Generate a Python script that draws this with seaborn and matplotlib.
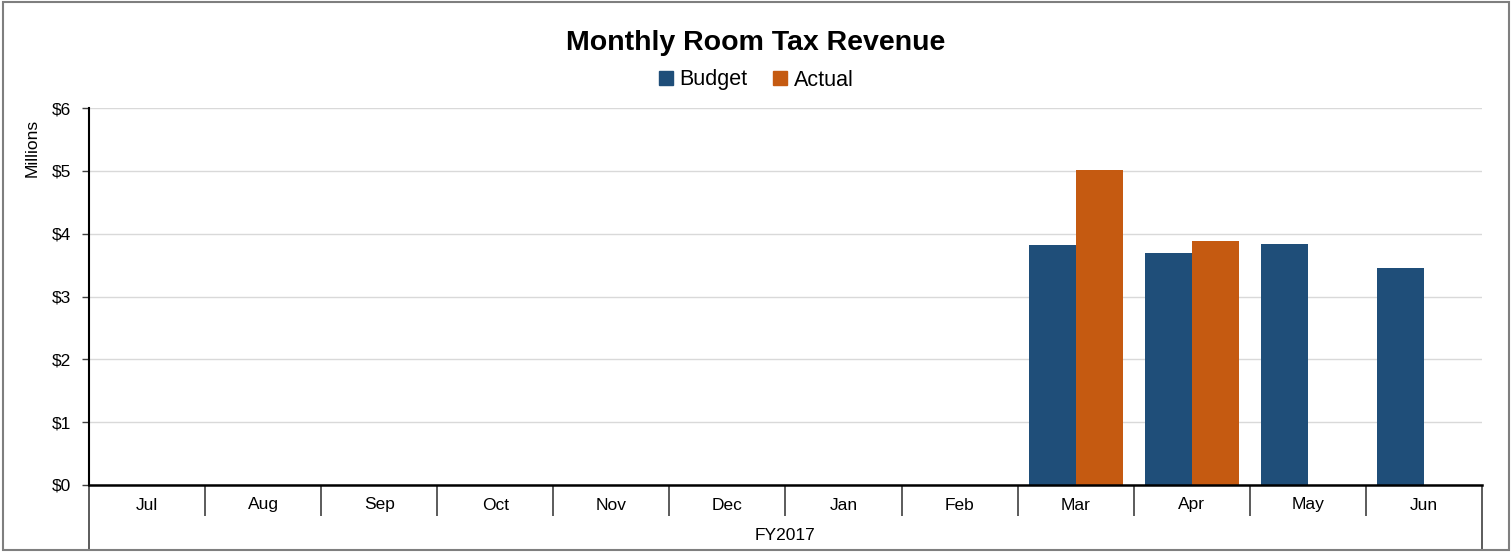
import matplotlib
matplotlib.use("Agg")
import matplotlib.pyplot as plt
import seaborn as sns
import pandas as pd
from matplotlib.patches import Rectangle
from matplotlib.ticker import FixedLocator, FuncFormatter

# Data (millions of dollars)
months = ['Jul', 'Aug', 'Sep', 'Oct', 'Nov', 'Dec', 'Jan', 'Feb', 'Mar', 'Apr', 'May', 'Jun']
budget = [None, None, None, None, None, None, None, None, 3.82, 3.69, 3.84, 3.45]
actual = [None, None, None, None, None, None, None, None, 5.02, 3.89, None, None]
series = ['Budget', 'Actual']
colors = ['#1F4E79', '#C55A11']
fiscal_year = 'FY2017'

df = pd.DataFrame({
    'month': months * 2,
    'series': ['Budget'] * 12 + ['Actual'] * 12,
    'value': budget + actual,
})
df['value'] = df['value'].astype(float)

sns.set_style('white')
plt.rcParams['font.family'] = ['Liberation Sans Narrow', 'Liberation Sans', 'DejaVu Sans']
plt.rcParams['text.color'] = 'black'
plt.rcParams['xtick.labelcolor'] = 'black'
plt.rcParams['ytick.labelcolor'] = 'black'

fig = plt.figure(figsize=(15.12, 5.52), dpi=100)
ax = fig.add_axes([89 / 1512, 67 / 552, (1482 - 89) / 1512, (485 - 108) / 552])

sns.barplot(data=df, x='month', y='value', hue='series', order=months,
            hue_order=series, palette=colors, width=0.81, linewidth=0,
            saturation=1, ax=ax, legend=False)

ax.set_xlim(-0.5, 11.5)
ax.set_ylim(0, 6)
ax.set_yticks(range(0, 7))
ax.yaxis.set_major_formatter(FuncFormatter(lambda v, p: f'${v:.0f}'))
ax.grid(axis='y', color='#d9d9d9', linewidth=1)
ax.set_axisbelow(True)
ax.set_xlabel('')
ax.set_ylabel('')

for s in ['top', 'right']:
    ax.spines[s].set_visible(False)
ax.spines['left'].set_color('black')
ax.spines['left'].set_linewidth(1.5)
ax.spines['bottom'].set_color('black')
ax.spines['bottom'].set_linewidth(1.8)

ax.tick_params(axis='y', which='major', length=5, width=1, color='#404040',
               labelsize=12.5, pad=8, left=True, labelcolor='black')

# month labels at centers, separators at boundaries
ax.xaxis.set_major_locator(FixedLocator([i - 0.5 for i in range(13)]))
ax.xaxis.set_minor_locator(FixedLocator(list(range(12))))
ax.set_xticklabels([''] * 13)
ax.set_xticklabels(months, minor=True)
ax.tick_params(axis='x', which='major', length=22, width=1.2, color='#404040', bottom=True)
ax.tick_params(axis='x', which='minor', length=0, labelsize=12.5, pad=9, labelcolor='black')
ticks = ax.xaxis.get_major_ticks()
for t in (ticks[0], ticks[-1]):
    t.tick1line.set_markersize(46)
    t.tick1line.set_color('black')

fig.text((89 + 1482) / 2 / 1512, 1 - 536 / 552, fiscal_year, ha='center', va='center', fontsize=12.5)
fig.text(32 / 1512, 1 - 148 / 552, 'Millions', rotation=90, ha='center', va='center', fontsize=12.5)
fig.text(0.5, 1 - 43 / 552, 'Monthly Room Tax Revenue', ha='center', va='center',
         fontsize=20.5, fontweight='bold')

handles = [Rectangle((0, 0), 1, 1, color=c) for c in colors]
fig.legend(handles, series, loc='center', bbox_to_anchor=(0.5, 1 - 80 / 552), ncol=2,
           frameon=False, fontsize=15.5, handlelength=0.65, handleheight=0.65,
           handletextpad=0.3, columnspacing=1.2)

fig.patches.append(Rectangle((0.002, 0.003), 0.996, 0.994, transform=fig.transFigure,
                             fill=False, edgecolor='#7f7f7f', linewidth=1.5))

fig.savefig('out.png', dpi=100)
